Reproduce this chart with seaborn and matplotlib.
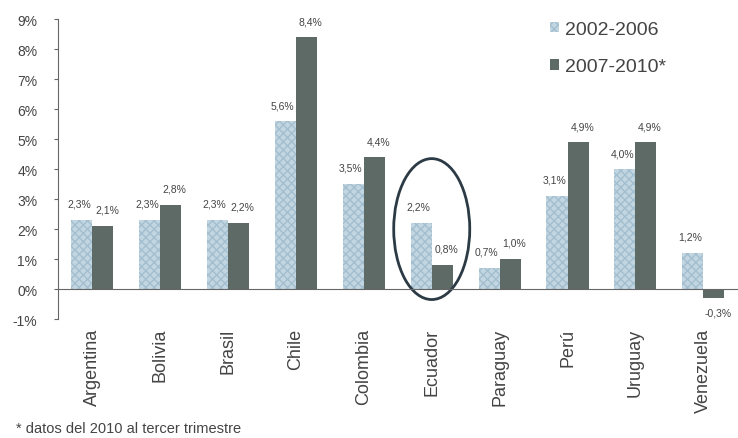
import matplotlib
matplotlib.use("Agg")
import matplotlib.pyplot as plt
from matplotlib.patches import Ellipse, Patch
import pandas as pd
import seaborn as sns

paises = ['Argentina', 'Bolivia', 'Brasil', 'Chile', 'Colombia',
          'Ecuador', 'Paraguay', 'Perú', 'Uruguay', 'Venezuela']
p2002_2006 = [2.3, 2.3, 2.3, 5.6, 3.5, 2.2, 0.7, 3.1, 4.0, 1.2]
p2007_2010 = [2.1, 2.8, 2.2, 8.4, 4.4, 0.8, 1.0, 4.9, 4.9, -0.3]
periodos = ['2002-2006', '2007-2010*']
y_ticks = [-1, 0, 1, 2, 3, 4, 5, 6, 7, 8, 9]

light = '#c2d6e2'
dark = '#5e6a65'
txt = '#444444'

df = pd.DataFrame({
    'pais': paises * 2,
    'valor': p2002_2006 + p2007_2010,
    'periodo': [periodos[0]] * len(paises) + [periodos[1]] * len(paises),
})

sns.set_style('white')
plt.rcParams['font.family'] = ['Liberation Sans', 'DejaVu Sans']

fig = plt.figure(figsize=(7.38, 4.39), dpi=100)
ax = fig.add_axes([0.079, 0.271, 0.92, 0.683])

sns.barplot(data=df, x='pais', y='valor', hue='periodo', palette=[light, dark],
            width=0.62, gap=0, saturation=1, legend=False, ax=ax)

for bar in ax.containers[0]:
    bar.set_hatch('xxxx')
    bar.set_edgecolor('#a3bfcf')
    bar.set_linewidth(0)
for bar in ax.containers[1]:
    bar.set_linewidth(0)

def fmt(v):
    return f'{v:.1f}%'.replace('.', ',')

# value labels, light ones nudged left, dark ones right
for cont, vals, dx in [(ax.containers[0], p2002_2006, -2),
                       (ax.containers[1], p2007_2010, 3)]:
    for bar, v in zip(cont, vals):
        x = bar.get_x() + bar.get_width() / 2
        dy = 8 if v >= 0 else -7
        ax.annotate(fmt(v), (x, v), xytext=(dx, dy), textcoords='offset points',
                    ha='center', va='bottom' if v >= 0 else 'top',
                    fontsize=7.5, color=txt)

ax.set_xlim(-0.5, len(paises) - 0.5)
ax.set_ylim(-1, 9)
ax.set_yticks(y_ticks)
ax.set_yticklabels([f'{t}%' for t in y_ticks], fontsize=10, color=txt)
ax.set_xlabel('')
ax.set_ylabel('')

for s in ['top', 'right']:
    ax.spines[s].set_visible(False)
ax.spines['left'].set_color('#666666')
ax.spines['bottom'].set_color('#666666')
ax.spines['bottom'].set_position(('data', 0))

ax.set_xticks(range(len(paises)))
ax.set_xticklabels(paises, rotation=90, fontsize=13, color=txt)
ax.set_xticks([i + 0.5 for i in range(len(paises))], minor=True)
ax.tick_params(axis='x', which='major', length=0, pad=28)
ax.tick_params(axis='x', which='minor', length=3, color='#666666', direction='out')
ax.tick_params(axis='y', length=3, color='#666666', direction='out', left=True, pad=12)

# ellipse round Ecuador
ax.add_patch(Ellipse((5, 2.0), 1.12, 4.7, fill=False, edgecolor='#2b3a44',
                     linewidth=2, clip_on=False))

handles = [Patch(facecolor=light, edgecolor='#a3bfcf', hatch='xxxx', linewidth=0),
           Patch(facecolor=dark, linewidth=0)]
fig.legend(handles, periodos, loc='upper left', bbox_to_anchor=(0.722, 0.99),
           frameon=False, fontsize=14, handlelength=0.45, handleheight=0.45,
           handletextpad=0.3, labelspacing=1.05, labelcolor=txt)

fig.text(0.022, 0.022, '* datos del 2010 al tercer trimestre', fontsize=10.5,
         color=txt, ha='left', va='center')

fig.savefig('out.png', dpi=100)
